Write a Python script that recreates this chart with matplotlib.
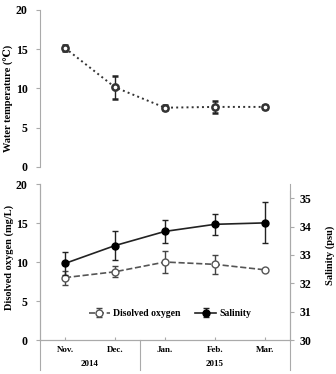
import matplotlib
matplotlib.use("Agg")
import matplotlib.pyplot as plt
import matplotlib.transforms as mtransforms

months = ["Nov.", "Dec.", "Jan.", "Feb.", "Mar."]
years = ["2014", "2015"]
temp = [15.15, 10.15, 7.55, 7.65, 7.65]
temp_err = [0.4, 1.45, 0.3, 0.8, 0.3]
oxygen = [8.0, 8.75, 10.0, 9.7, 9.0]
oxygen_err = [0.9, 0.7, 1.4, 1.2, 0.0]
salinity = [32.7, 33.33, 33.83, 34.08, 34.13]
salinity_err = [0.4, 0.5, 0.4, 0.38, 0.72]

plt.rcParams['font.family'] = ['Liberation Serif', 'DejaVu Serif']
plt.rcParams['font.weight'] = 'bold'

spine_col = "#aaaaaa"
x = list(range(len(months)))

fig = plt.figure(figsize=(3.36, 3.74), dpi=100)
ax1 = fig.add_axes([0.119, 0.5535, 0.744, 0.42])
ax2 = fig.add_axes([0.119, 0.0909, 0.744, 0.417])
ax3 = ax2.twinx()

# top panel: water temperature
ax1.errorbar(x, temp, yerr=temp_err, fmt='o', linestyle=':', color='#333333',
             ecolor='#222222', elinewidth=1, capsize=2, lw=1.4,
             markersize=4.5, mfc='white', mec='#333333', mew=1.8)
ax1.set_xlim(-0.5, 4.5)
ax1.set_ylim(0, 20)
ax1.set_yticks([0, 5, 10, 15, 20])
ax1.set_xticks([])
for s in ["top", "right", "bottom"]:
    ax1.spines[s].set_visible(False)
ax1.spines["left"].set_color(spine_col)
ax1.tick_params(axis='y', length=3, color=spine_col, labelsize=8.5, pad=6)
ax1.set_ylabel("Water temperature (℃)", fontsize=7.5, fontweight='bold')
ax1.yaxis.set_label_coords(-0.105, 0.44)

# bottom panel: dissolved oxygen and salinity
l1 = ax2.errorbar(x, oxygen, yerr=oxygen_err, fmt='o', linestyle='--',
                  color='#555555', ecolor='#444444', elinewidth=1,
                  capsize=2, lw=1.2, markersize=5, mfc='white',
                  mec='#555555', mew=1, label="Disolved oxygen")
l2 = ax3.errorbar(x, salinity, yerr=salinity_err, fmt='o', linestyle='-',
                  color='#222222', ecolor='#222222', elinewidth=1,
                  capsize=2, lw=1.2, markersize=5, mfc='black',
                  mec='black', label="Salinity")
ax2.set_xlim(-0.5, 4.5)
ax2.set_ylim(0, 20)
ax2.set_yticks([0, 5, 10, 15, 20])
ax3.set_ylim(30, 35.5)
ax3.set_yticks([30, 31, 32, 33, 34, 35])
ax2.set_xticks(x)
ax2.set_xticklabels([])
ax2.tick_params(axis='x', direction='in', length=2, color=spine_col)
for a in (ax2, ax3):
    a.spines["top"].set_visible(False)
    for s in ["left", "right", "bottom"]:
        a.spines[s].set_color(spine_col)
ax3.spines["right"].set_bounds(30, 35.25)
ax2.tick_params(axis='y', length=3, color=spine_col, labelsize=8.5, pad=6)
ax3.tick_params(axis='y', length=3, color=spine_col, labelsize=8.5, pad=4)
ax2.set_ylabel("Disolved oxygen (mg/L)", fontsize=7.5, fontweight='bold')
ax2.yaxis.set_label_coords(-0.105, 0.53)
ax3.set_ylabel("Salinity (psu)", fontsize=7.5, fontweight='bold')
ax3.yaxis.set_label_coords(1.14, 0.545)

# category labels and year separators below the axis
trans = mtransforms.blended_transform_factory(ax2.transData, ax2.transAxes)
for i, m in enumerate(months):
    ax2.text(i, -0.065, m, transform=trans, ha='center', va='center',
             fontsize=6.5, fontweight='bold')
ax2.text(0.5, -0.155, years[0], transform=trans, ha='center', va='center',
         fontsize=6.5, fontweight='bold')
ax2.text(3.0, -0.155, years[1], transform=trans, ha='center', va='center',
         fontsize=6.5, fontweight='bold')
for xv in (-0.5, 1.5, 4.5):
    ax2.plot([xv, xv], [0, -0.19], transform=trans, color=spine_col,
             lw=0.8, clip_on=False)

ax2.legend(handles=[l1, l2], loc='center', bbox_to_anchor=(0.52, 0.17),
           ncol=2, frameon=False, fontsize=7, handlelength=2.2,
           columnspacing=1.5, handletextpad=0.3)

fig.savefig("out.png", dpi=100)
